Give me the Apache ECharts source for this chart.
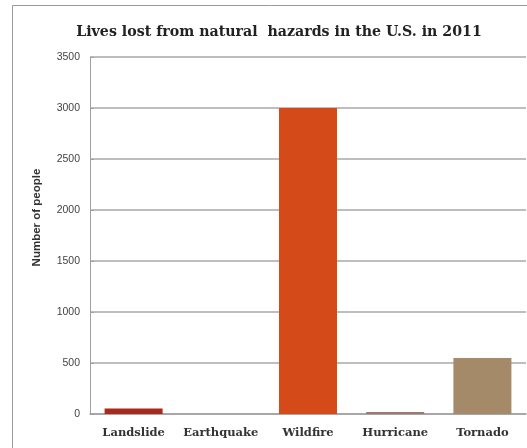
<!DOCTYPE html>
<html>
<head>
<meta charset="utf-8">
<script src="https://cdn.jsdelivr.net/npm/echarts@6/dist/echarts.min.js"></script>
<style>
  html, body { margin: 0; padding: 0; background: #fff; }
  #chart { width: 527px; height: 448px; }
</style>
</head>
<body>
<div id="chart"></div>
<script>
// data
const categories = ['Landslide', 'Earthquake', 'Wildfire', 'Hurricane', 'Tornado']
const deaths = [55, 0, 3000, 20, 550]
const barColors = ['#A8291D', '#8C8C8C', '#D44A18', '#9B7872', '#A48A68']
const yTicks = { min: 0, max: 3500, interval: 500 }

const chart = echarts.init(document.getElementById('chart'), null, { renderer: 'canvas' })

chart.setOption({
  backgroundColor: '#fff',
  animation: false,
  // outer frame of the original image (runs off to the right and bottom)
  graphic: [{
    type: 'rect',
    shape: { x: 12.5, y: 5.5, width: 600, height: 500 },
    style: { fill: 'none', stroke: '#9a9a9a', lineWidth: 1 },
    silent: true,
    z: -1,
  }],
  title: {
    text: 'Lives lost from natural  hazards in the U.S. in 2011',
    left: 274,
    textAlign: 'center',
    top: 20,
    textStyle: {
      fontFamily: 'DejaVu Serif',
      fontWeight: 'bold',
      fontSize: 14.2,
      color: '#222',
    },
  },
  grid: { left: 90, right: 1, top: 57, bottom: 34 },
  xAxis: {
    type: 'category',
    data: categories,
    axisLine: { lineStyle: { color: '#a0a0a0', width: 1.5 } },
    axisTick: { show: false },
    axisLabel: {
      interval: 0,
      fontFamily: 'DejaVu Serif',
      fontWeight: 'bold',
      fontSize: 11.5,
      color: '#333',
      margin: 13,
    },
  },
  yAxis: {
    type: 'value',
    min: yTicks.min,
    max: yTicks.max,
    interval: yTicks.interval,
    name: 'Number of people',
    nameLocation: 'middle',
    nameGap: 47,
    nameRotate: 90,
    nameTextStyle: {
      fontFamily: 'Liberation Sans',
      fontWeight: 'bold',
      fontSize: 11.5,
      color: '#333',
      padding: [0, 0, 0, 36],
    },
    axisLine: { show: true, lineStyle: { color: '#a0a0a0', width: 1 } },
    axisTick: { show: true, length: 4, inside: true, lineStyle: { color: '#a0a0a0' } },
    axisLabel: {
      fontFamily: 'Liberation Sans',
      fontSize: 10.5,
      color: '#444',
      margin: 10,
      formatter: (v) => String(v),
    },
    splitLine: { lineStyle: { color: '#a8a8a8', width: 1.5 } },
  },
  series: [{
    type: 'bar',
    data: deaths.map((v, i) => ({ value: v, itemStyle: { color: barColors[i] } })),
    barWidth: 58,
  }],
})

window.addEventListener('resize', () => chart.resize())
</script>
</body>
</html>
